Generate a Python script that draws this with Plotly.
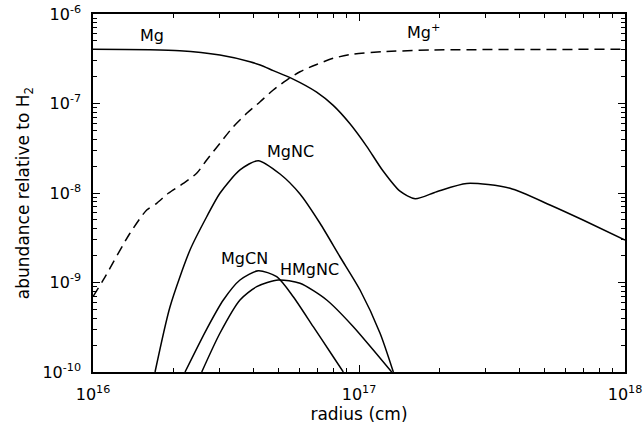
import plotly.graph_objects as go

# Mg (neutral)
mg_r = [1.0e16, 2.12e16, 3.0e16, 3.89e16, 4.25e16, 4.76e16, 5.58e16, 6.93e16, 8.0e16, 9.25e16, 1.069e17,
        1.23e17, 1.426e17, 1.626e17, 1.959e17, 2.541e17, 3.698e17, 5.224e17, 6.95e17, 1.0e18]
mg_ab = [4.03e-7, 3.89e-7, 3.48e-7, 2.93e-7, 2.69e-7, 2.33e-7, 1.91e-7, 1.34e-7, 9.52e-8, 5.93e-8, 3.32e-8,
         1.77e-8, 1.047e-8, 8.63e-9, 1.035e-8, 1.28e-8, 1.13e-8, 7.35e-9, 4.99e-9, 2.98e-9]

# Mg+ (dashed)
mgp_r = [1.0e16, 1.093e16, 1.377e16, 1.592e16, 1.736e16, 1.919e16, 2.185e16, 2.453e16, 2.676e16,
         3.0e16, 3.369e16, 3.784e16, 4.25e16, 4.76e16, 5.35e16, 6.0e16, 6.93e16, 8.0e16,
         9.52e16, 1.23e17, 1.897e17, 1.0e18]
mgp_ab = [6.94e-10, 1.067e-9, 3.55e-9, 6.46e-9, 7.67e-9, 9.93e-9, 1.28e-8, 1.66e-8, 2.34e-8,
          3.59e-8, 5.51e-8, 7.77e-8, 1.047e-7, 1.416e-7, 1.83e-7, 2.265e-7, 2.73e-7, 3.20e-7,
          3.57e-7, 3.79e-7, 3.96e-7, 4.03e-7]

# MgNC
mgnc_r = [1.711e16, 1.948e16, 2.316e16, 2.676e16, 3.0e16, 3.569e16, 4.182e16, 5.047e16,
          6.0e16, 7.135e16, 8.48e16, 1.009e17, 1.20e17, 1.346e17]
mgnc_ab = [1.0e-10, 5.37e-10, 2.31e-9, 5.43e-9, 9.93e-9, 1.81e-8, 2.30e-8, 1.63e-8,
           9.75e-9, 4.59e-9, 1.94e-9, 8.24e-10, 2.71e-10, 1.0e-10]

# MgCN
mgcn_r = [2.218e16, 2.676e16, 3.09e16, 3.569e16, 4.182e16, 4.904e16, 5.66e16, 6.73e16, 8.0e16, 8.73e16]
mgcn_ab = [1.0e-10, 3.02e-10, 6.38e-10, 1.067e-9, 1.355e-9, 1.161e-9, 6.94e-10, 3.21e-10, 1.48e-10, 1.0e-10]

# HMgNC
hmgnc_r = [2.563e16, 3.0e16, 3.569e16, 4.125e16, 4.973e16, 6.0e16, 7.56e16, 9.52e16, 1.132e17, 1.327e17]
hmgnc_ab = [1.0e-10, 2.71e-10, 6.38e-10, 8.98e-10, 1.067e-9, 9.80e-10, 6.38e-10, 3.21e-10, 1.76e-10, 1.0e-10]

x_tickvals = [1e16, 1e17, 1e18]
x_ticktext = ["10<sup>16</sup>", "10<sup>17</sup>", "10<sup>18</sup>"]
y_tickvals = [1e-10, 1e-9, 1e-8, 1e-7, 1e-6]
y_ticktext = ["10<sup>-10</sup>", "10<sup>-9</sup>", "10<sup>-8</sup>", "10<sup>-7</sup>", "10<sup>-6</sup>"]

# label text, log10(radius), log10(abundance) of the label centre
labels = [("Mg", 16.222, -6.235), ("Mg<sup>+</sup>", 17.241, -6.19), ("MgNC", 16.744, -7.536),
          ("MgCN", 16.570, -8.737), ("HMgNC", 16.814, -8.860)]

FONT = "DejaVu Sans"
fig = go.Figure()
line = dict(color="black", width=1.5, shape="spline", smoothing=0.7)
fig.add_trace(go.Scatter(x=mg_r, y=mg_ab, mode="lines", line=line, name="Mg"))
fig.add_trace(go.Scatter(x=mgp_r, y=mgp_ab, mode="lines",
                         line=dict(color="black", width=1.5, dash="10px,6px", shape="spline", smoothing=0.7),
                         name="Mg+"))
fig.add_trace(go.Scatter(x=mgnc_r, y=mgnc_ab, mode="lines", line=line, name="MgNC"))
fig.add_trace(go.Scatter(x=mgcn_r, y=mgcn_ab, mode="lines", line=line, name="MgCN"))
fig.add_trace(go.Scatter(x=hmgnc_r, y=hmgnc_ab, mode="lines", line=line, name="HMgNC"))

for txt, lx, ly in labels:
    fig.add_annotation(text=txt, x=lx, y=ly, xref="x", yref="y", showarrow=False,
                       xanchor="center", yanchor="middle",
                       font=dict(family=FONT, size=16, color="black"))

axis_common = dict(type="log", showgrid=False, zeroline=False, showline=True, linecolor="black",
                   linewidth=1.5, mirror="allticks", ticks="inside", ticklen=7, tickwidth=1,
                   tickcolor="black", tickfont=dict(family=FONT, size=16, color="black"),
                   minor=dict(ticks="inside", ticklen=4, tickwidth=1, tickcolor="black",
                              dtick="D1", showgrid=False))

fig.update_xaxes(**axis_common, range=[16, 18], tickvals=x_tickvals, ticktext=x_ticktext,
                 ticklabelstandoff=7,
                 title=dict(text="radius (cm)", font=dict(family=FONT, size=17, color="black"),
                            standoff=3))
fig.update_yaxes(**axis_common, range=[-10, -6], tickvals=y_tickvals, ticktext=y_ticktext,
                 ticklabelstandoff=7,
                 title=dict(text="abundance relative to H<sub>2</sub>",
                            font=dict(family=FONT, size=17, color="black"), standoff=8))

fig.update_layout(width=643, height=434, margin=dict(l=93, r=18, t=14, b=62, autoexpand=False),
                  plot_bgcolor="white", paper_bgcolor="white", showlegend=False,
                  font=dict(family=FONT, color="black"))

fig.write_html("out.html")
